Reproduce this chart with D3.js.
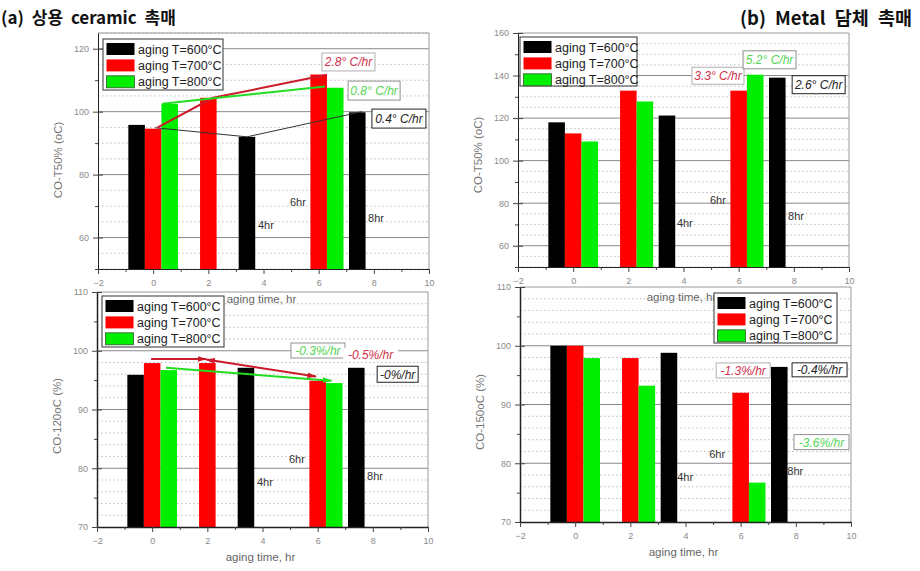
<!DOCTYPE html>
<html><head><meta charset="utf-8">
<script src="https://cdn.jsdelivr.net/npm/d3@7"></script>
<style>body{margin:0;background:#fff}svg{display:block}</style>
</head><body>
<svg id="chart" width="920" height="571"></svg>
<script>
// ---------------- data ----------------
const legendLabels = ["aging T=600°C", "aging T=700°C", "aging T=800°C"];
const hourLabels = ["4hr", "6hr", "8hr"];
const xTickValues = [-2, 0, 2, 4, 6, 8, 10];
const titleA = "(a) 상용 ceramic 촉매";
const titleB = "(b) Metal 담체 촉매";
const xAxisTitle = "aging time, hr";

// (a) ceramic, CO-T50%
const aX600 = [-0.6, 3.4, 7.4], aV600 = [95.8, 92.0, 99.8];
const aX700 = [0, 2, 6],        aV700 = [94.6, 104.4, 111.8];
const aX800 = [0.6, 6.6],       aV800 = [102.5, 107.6];
const aRates = ["0.4° C/hr", "2.8° C/hr", "0.8° C/hr"];          // 600, 700, 800
const aTrend600 = [[0.07, 94.9], [3.4, 92.0], [7.57, 100.0]];
const aTrend700 = [[0.15, 94.9], [2.17, 104.4], [6.3, 111.7]];
const aTrend800 = [[0.33, 102.5], [6.23, 108.0]];

// (b) metal, CO-T50%
const bX600 = [-0.6, 3.4, 7.4], bV600 = [118.0, 121.2, 139.0];
const bX700 = [0, 2, 6],        bV700 = [112.8, 132.9, 132.9];
const bX800 = [0.6, 2.6, 6.6],  bV800 = [109.0, 127.8, 140.4];
const bRates = ["2.6° C/hr", "3.3° C/hr", "5.2° C/hr"];

// (c) ceramic, CO-120oC conversion
const cX600 = [-0.6, 3.4, 7.4], cV600 = [95.9, 97.1, 97.1];
const cX700 = [0, 2, 6],        cV700 = [97.9, 97.9, 94.9];
const cX800 = [0.6, 6.6],       cV800 = [96.7, 94.5];
const cRates = ["-0%/hr", "-0.5%/hr", "-0.3%/hr"];
const cTrend700a = [[-0.04, 98.6], [1.96, 98.6]];
const cTrend700b = [[1.96, 98.5], [5.94, 95.6]];
const cTrend800 = [[0.5, 97.1], [6.5, 94.9]];

// (d) metal, CO-150oC conversion
const dX600 = [-0.6, 3.4, 7.4], dV600 = [100, 98.8, 96.4];
const dX700 = [0, 2, 6],        dV700 = [100, 97.9, 92.0];
const dX800 = [0.6, 2.6, 6.6],  dV800 = [97.9, 93.2, 76.7];
const dRates = ["-0.4%/hr", "-1.3%/hr", "-3.6%/hr"];

// ---------------- styles ----------------
const barColors = ["#000000", "#ff0000", "#00ee00"];
const rateText = ["#222222", "#d0304a", "#55d455"];
const rateBorder = ["#222222", "#b0b0b0", "#909090"];
const lineColors = ["#333333", "#cc1a2a", "#22dd22"];
const FONT = "'Liberation Sans', Arial, sans-serif";

const svg = d3.select("#chart");
const defs = svg.append("defs");
function marker(id, color, size) {
  defs.append("marker").attr("id", id)
    .attr("viewBox", "0 0 10 6").attr("refX", 9).attr("refY", 3)
    .attr("markerUnits", "userSpaceOnUse")
    .attr("markerWidth", size * 1.6).attr("markerHeight", size)
    .attr("orient", "auto-start-reverse")
    .append("path").attr("d", "M0,0 L10,3 L0,6 Z").attr("fill", color);
}
marker("arR", lineColors[1], 6);
marker("arG", lineColors[2], 6);

// titles
svg.append("text").attr("x", 1).attr("y", 24).text(titleA)
  .attr("font-family", "'Noto Sans CJK KR', sans-serif").attr("font-weight", "bold")
  .attr("font-size", 17).attr("word-spacing", 4).attr("fill", "#111");
svg.append("text").attr("x", 912).attr("y", 25).attr("text-anchor", "end").text(titleB)
  .attr("font-family", "'Noto Sans CJK KR', sans-serif").attr("font-weight", "bold")
  .attr("font-size", 18.5).attr("word-spacing", 5).attr("fill", "#111");

function panel(cfg) {
  const g = svg.append("g");
  const x = d3.scaleLinear().domain([-2, 10]).range([cfg.l, cfg.r]);
  const y = d3.scaleLinear().domain(cfg.yDomain).range([cfg.b, cfg.t]);

  // dotted grid
  const dots = d3.range(cfg.yDomain[0], cfg.yDomain[1] + 1e-6, cfg.dotStep)
    .filter(v => !cfg.yTicks.includes(v));
  g.selectAll(".dg").data(dots).join("line")
    .attr("x1", cfg.l).attr("x2", cfg.r).attr("y1", d => y(d)).attr("y2", d => y(d))
    .attr("stroke", "#bdbdbd").attr("stroke-width", 1).attr("stroke-dasharray", "1.5,2.5");
  // solid grid
  g.selectAll(".sg").data(cfg.yTicks.filter(v => v > cfg.yDomain[0] && v < cfg.yDomain[1])).join("line")
    .attr("x1", cfg.l).attr("x2", cfg.r).attr("y1", d => y(d)).attr("y2", d => y(d))
    .attr("stroke", "#8a8a8a").attr("stroke-width", 1);

  // bars
  const bw = x(0.6) - x(0);
  cfg.series.forEach((s, i) => {
    const data = s.x.map((xv, k) => ({ x: xv, v: s.v[k] }));
    g.selectAll(".bar" + i).data(data).join("rect")
      .attr("x", d => x(d.x) - bw / 2).attr("width", bw)
      .attr("y", d => y(d.v)).attr("height", d => y(cfg.yDomain[0]) - y(d.v))
      .attr("fill", barColors[i]);
  });

  // frame
  g.append("line").attr("x1", cfg.l).attr("x2", cfg.r).attr("y1", cfg.t).attr("y2", cfg.t).attr("stroke", "#9a9a9a");
  g.append("line").attr("x1", cfg.r).attr("x2", cfg.r).attr("y1", cfg.t).attr("y2", cfg.b).attr("stroke", "#9a9a9a");

  // y axis
  const yMinor = d3.range(cfg.yDomain[0], cfg.yDomain[1] + 1e-6, cfg.yMinorStep).filter(v => !cfg.yTicks.includes(v));
  g.append("g").attr("transform", `translate(${cfg.l},0)`)
    .call(d3.axisLeft(y).tickValues(cfg.yTicks).tickSize(5).tickPadding(4).tickSizeOuter(0));
  g.append("g").attr("transform", `translate(${cfg.l},0)`)
    .call(d3.axisRight(y).tickValues(cfg.yTicks).tickSize(5).tickFormat("").tickSizeOuter(0))
    .select(".domain").remove();
  g.append("g").attr("transform", `translate(${cfg.l},0)`)
    .call(d3.axisLeft(y).tickValues(yMinor).tickSize(3).tickFormat("").tickSizeOuter(0))
    .select(".domain").remove();
  // x axis
  const xMinor = d3.range(-1, 10, 2);
  g.append("g").attr("transform", `translate(0,${cfg.b})`)
    .call(d3.axisBottom(x).tickValues(xTickValues).tickSize(5).tickPadding(6).tickSizeOuter(0));
  g.append("g").attr("transform", `translate(0,${cfg.b})`)
    .call(d3.axisBottom(x).tickValues(xMinor).tickSize(3).tickFormat("").tickSizeOuter(0))
    .select(".domain").remove();
  g.selectAll(".domain").attr("stroke", "#222").attr("stroke-width", cfg.axisW);
  g.selectAll(".tick line").attr("stroke", "#444");
  g.selectAll(".tick text").attr("font-family", FONT).attr("font-size", 9).attr("fill", "#8a8a8a");

  // axis titles
  g.append("text").attr("transform", `translate(${cfg.l - 36},${cfg.ylabY}) rotate(-90)`)
    .attr("text-anchor", "middle").attr("font-family", FONT).attr("font-size", 11.5)
    .attr("fill", "#777").text(cfg.yLabel);
  g.append("text").attr("x", (cfg.l + cfg.r) / 2 - 2).attr("y", cfg.b + 34)
    .attr("text-anchor", "middle").attr("font-family", FONT).attr("font-size", 11.5)
    .attr("fill", "#666").text(xAxisTitle);

  // trend lines
  const line = d3.line().x(d => x(d[0])).y(d => y(d[1]));
  (cfg.trends || []).forEach(t => {
    const p = g.append("path").attr("d", line(t.pts)).attr("fill", "none")
      .attr("stroke", lineColors[t.s]).attr("stroke-width", t.w);
    if (t.end) p.attr("marker-end", `url(#${t.end})`);
    if (t.start) p.attr("marker-start", `url(#${t.start})`);
  });

  // hour labels
  cfg.hours.forEach((h, i) => {
    g.append("text").attr("x", x(h[0])).attr("y", y(h[1])).text(hourLabels[i])
      .attr("font-family", FONT).attr("font-size", 11).attr("fill", "#333");
  });

  // rate boxes
  cfg.rates.forEach(r => {
    const cx = x(r.x), cy = y(r.y);
    g.append("rect").attr("x", cx - r.w / 2).attr("y", cy - r.h / 2).attr("width", r.w).attr("height", r.h)
      .attr("fill", "#fff").attr("stroke", r.border === false ? "none" : rateBorder[r.s]).attr("stroke-width", 1);
    g.append("text").attr("x", cx).attr("y", cy + 4.5).attr("text-anchor", "middle")
      .attr("font-family", FONT).attr("font-style", "italic").attr("font-size", 12)
      .attr("fill", rateText[r.s]).text(cfg.rateLabels[r.s]);
  });

  // legend
  const lg = g.append("g").attr("transform", `translate(${cfg.lg[0]},${cfg.lg[1]})`);
  lg.append("rect").attr("width", cfg.lg[2]).attr("height", cfg.lg[3])
    .attr("fill", "#fff").attr("stroke", "#333").attr("stroke-width", 1);
  legendLabels.forEach((lab, i) => {
    lg.append("rect").attr("x", 3.5).attr("y", 4 + i * 16.4).attr("width", 28).attr("height", 12)
      .attr("fill", barColors[i]).attr("stroke", i === 2 ? "#335533" : "none").attr("stroke-width", 0.8);
    lg.append("text").attr("x", 35).attr("y", 14.5 + i * 16.4).text(lab)
      .attr("font-family", FONT).attr("font-size", 12.5).attr("fill", "#222");
  });
}

panel({
  l: 98, r: 429, t: 33, b: 269, yDomain: [50, 125], yTicks: [60, 80, 100, 120],
  yMinorStep: 10, dotStep: 5, axisW: 1, yLabel: "CO-T50% (oC)", ylabY: 160,
  series: [{ x: aX600, v: aV600 }, { x: aX700, v: aV700 }, { x: aX800, v: aV800 }],
  rateLabels: aRates,
  trends: [
    { pts: aTrend600, s: 0, w: 1 },
    { pts: aTrend700, s: 1, w: 2 },
    { pts: aTrend800, s: 2, w: 2 }
  ],
  hours: [[3.8, 62.7], [4.96, 70.0], [7.79, 65.0]],
  rates: [
    { s: 1, x: 7.08, y: 115.8, w: 53, h: 18 },
    { s: 2, x: 8.01, y: 106.7, w: 52, h: 19 },
    { s: 0, x: 8.91, y: 97.8, w: 54, h: 19 }
  ],
  lg: [103, 39, 120, 51]
});

panel({
  l: 518, r: 849, t: 33, b: 267, yDomain: [50, 160], yTicks: [60, 80, 100, 120, 140, 160],
  yMinorStep: 10, dotStep: 5, axisW: 1, yLabel: "CO-T50% (oC)", ylabY: 155,
  series: [{ x: bX600, v: bV600 }, { x: bX700, v: bV700 }, { x: bX800, v: bV800 }],
  rateLabels: bRates,
  hours: [[3.76, 68.9], [4.96, 79.6], [7.79, 72.1]],
  rates: [
    { s: 1, x: 5.25, y: 139.9, w: 52, h: 17 },
    { s: 2, x: 7.12, y: 147.4, w: 53, h: 18 },
    { s: 0, x: 8.9, y: 135.7, w: 53, h: 18 }
  ],
  lg: [520, 37, 117, 49]
});

panel({
  l: 97, r: 428, t: 292, b: 527, yDomain: [70, 110], yTicks: [70, 80, 90, 100, 110],
  yMinorStep: 5, dotStep: 2, axisW: 1.5, yLabel: "CO-120oC (%)", ylabY: 416,
  series: [{ x: cX600, v: cV600 }, { x: cX700, v: cV700 }, { x: cX800, v: cV800 }],
  rateLabels: cRates,
  trends: [
    { pts: cTrend700a, s: 1, w: 2, end: "arR" },
    { pts: cTrend700b, s: 1, w: 2, end: "arR", start: "arR" },
    { pts: cTrend800, s: 2, w: 2, end: "arG" }
  ],
  hours: [[3.8, 77.0], [4.96, 80.9], [7.79, 78.0]],
  rates: [
    { s: 2, x: 6.01, y: 100.04, w: 54, h: 15 },
    { s: 1, x: 7.92, y: 99.3, w: 55, h: 14, border: false },
    { s: 0, x: 8.9, y: 96.0, w: 41, h: 16 }
  ],
  lg: [102, 296, 122, 51]
});

panel({
  l: 520, r: 851, t: 287, b: 522, yDomain: [70, 110], yTicks: [70, 80, 90, 100, 110],
  yMinorStep: 5, dotStep: 2, axisW: 1.5, yLabel: "CO-150oC (%)", ylabY: 412,
  series: [{ x: dX600, v: dV600 }, { x: dX700, v: dV700 }, { x: dX800, v: dV800 }],
  rateLabels: dRates,
  hours: [[3.7, 77.0], [4.86, 80.9], [7.69, 78.0]],
  rates: [
    { s: 1, x: 6.09, y: 95.8, w: 54, h: 15 },
    { s: 0, x: 8.86, y: 95.9, w: 55, h: 14 },
    { s: 2, x: 8.93, y: 83.6, w: 55, h: 15 }
  ],
  lg: [714, 293, 123, 50]
});
</script>
</body></html>
